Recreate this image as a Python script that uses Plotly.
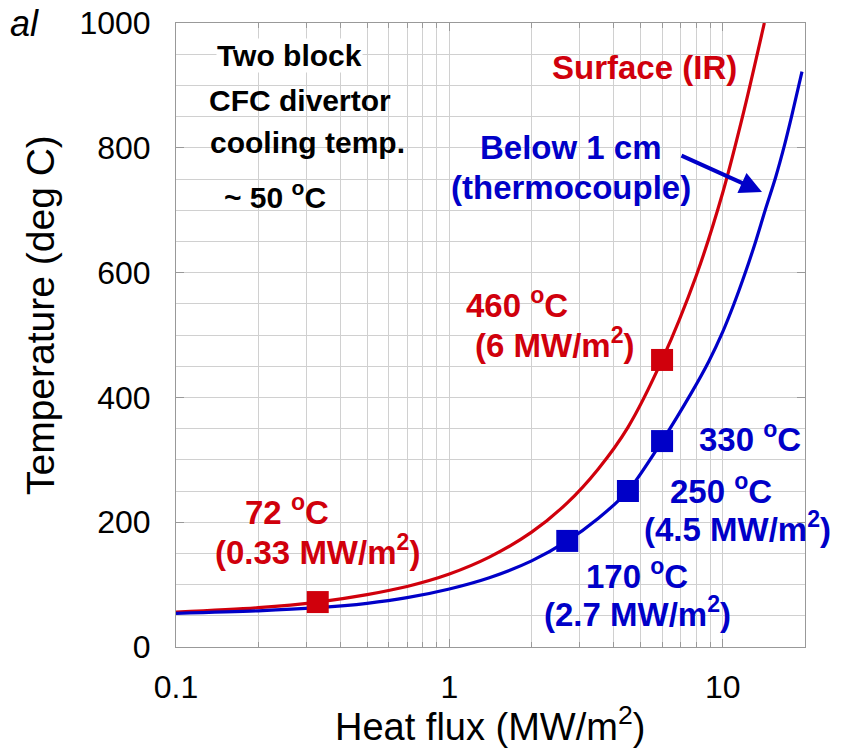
import plotly.graph_objects as go

# Heat flux (MW/m^2) vs temperature (deg C) for the two-block CFC divertor
surface_q = [0.1, 0.2, 0.33, 0.5, 0.7, 1, 1.4, 2, 2.7, 3.5, 4.5, 6, 8, 10, 12, 14.2]
surface_t = [56, 63, 72, 84, 97, 117, 144, 184, 231, 285, 352, 460, 595, 728, 862, 1000]

below_q = [0.1, 0.2, 0.33, 0.5, 0.7, 1, 1.4, 2, 2.7, 3.5, 4.5, 6, 7.7, 8.9, 10, 11,
           12.1, 13.2, 14.3, 15.6, 16.8, 17.9, 19.5]
below_t = [54, 58, 63, 70, 79, 93, 111, 138, 170, 206, 250, 330, 408, 458, 505, 550,
           600, 650, 700, 752, 803, 852, 922]

# Measured points
surface_pts_q = [0.33, 6]
surface_pts_t = [72, 460]
below_pts_q = [2.7, 4.5, 6]
below_pts_t = [170, 250, 330]

x_ticks = [0.1, 1, 10]
x_ticklabels = ["0.1", "1", "10"]
x_minor = [0.2, 0.3, 0.4, 0.5, 0.6, 0.7, 0.8, 0.9, 2, 3, 4, 5, 6, 7, 8, 9, 20]
y_ticks = [0, 200, 400, 600, 800, 1000]

RED = "#d0000c"
BLUE = "#0000c8"
FONT = "Liberation Sans, Arial, sans-serif"

W, H = 841, 756
L, R, T, B = 176, 805, 23, 647  # plot area in page pixels


def px(x, y):
    """page pixel -> paper coords"""
    return (x - L) / (R - L), (B - y) / (B - T)


fig = go.Figure()
fig.add_trace(go.Scatter(x=surface_q, y=surface_t, mode="lines",
                         line=dict(color=RED, width=3.2, shape="spline", smoothing=0.8),
                         showlegend=False, hoverinfo="skip"))
fig.add_trace(go.Scatter(x=below_q, y=below_t, mode="lines",
                         line=dict(color=BLUE, width=3.2, shape="spline", smoothing=0.8),
                         showlegend=False, hoverinfo="skip"))
fig.add_trace(go.Scatter(x=surface_pts_q, y=surface_pts_t, mode="markers",
                         marker=dict(symbol="square", size=22, color=RED),
                         showlegend=False))
fig.add_trace(go.Scatter(x=below_pts_q, y=below_pts_t, mode="markers",
                         marker=dict(symbol="square", size=22, color=BLUE),
                         showlegend=False))

annos = []


def label(text, x, y, color, size=33, bold=True, bg=None, angle=0):
    xp, yp = px(x, y)
    t = f"<b>{text}</b>" if bold else text
    d = dict(text=t, x=xp, y=yp, xref="paper", yref="paper", showarrow=False,
             xanchor="center", yanchor="middle", textangle=angle,
             font=dict(family=FONT, size=size, color=color))
    if bg:
        d.update(bgcolor=bg, borderpad=0)
    annos.append(d)


label("Two block", 289, 55, "black", size=30, bg="white")
label("CFC divertor", 300, 100, "black", size=30)
label("cooling temp.", 307, 142, "black", size=30)
label("~ 50 <sup>o</sup>C", 275, 195, "black", size=30)

label("Surface (IR)", 644, 68, RED)
label("460 <sup>o</sup>C", 517, 303, RED)
label("(6 MW/m<sup>2</sup>)", 555, 343, RED)
label("72 <sup>o</sup>C", 287, 510, RED)
label("(0.33 MW/m<sup>2</sup>)", 317, 550, RED)

label("Below 1 cm", 571, 148, BLUE)
label("(thermocouple)", 571, 188, BLUE)
label("330 <sup>o</sup>C", 750, 437, BLUE)
label("250 <sup>o</sup>C", 721, 489, BLUE)
label("(4.5 MW/m<sup>2</sup>)", 737, 527, BLUE)
label("170 <sup>o</sup>C", 637, 574, BLUE)
label("(2.7 MW/m<sup>2</sup>)", 637, 612, BLUE)

# axis titles
label("Temperature (deg C)", 40, 315, "black", size=39, bold=False, angle=-90)
label("Heat flux (MW/m<sup>2</sup>)", 490, 724, "black", size=38, bold=False)

# arrow pointing at the thermocouple curve
tip = px(762, 192)
annos.append(dict(x=tip[0], y=tip[1], xref="paper", yref="paper", text="",
                  showarrow=True, ax=-82, ay=-37, arrowhead=2, arrowsize=1.1,
                  arrowwidth=4, arrowcolor=BLUE))

# fragment of a heading at the page corner
xp, yp = px(24, 24)
annos.append(dict(text="<i>al</i>", x=xp, y=yp, xref="paper", yref="paper",
                  showarrow=False, xanchor="center", yanchor="middle",
                  font=dict(family=FONT, size=36, color="black")))

grid = "#d0d0d0"
fig.update_layout(
    width=W, height=H,
    margin=dict(l=L, r=W - R, t=T, b=H - B, pad=0, autoexpand=False),
    paper_bgcolor="white", plot_bgcolor="white",
    font=dict(family=FONT, color="black"),
    annotations=annos,
    xaxis=dict(type="log", range=[-1, 1.30103], automargin=False,
               tickvals=x_ticks, ticktext=x_ticklabels,
               tickfont=dict(size=32), ticks="inside", ticklen=8, tickcolor="#999",
               ticklabelstandoff=12,
               showgrid=True, gridcolor=grid, gridwidth=1,
               minor=dict(tickvals=x_minor, showgrid=True, gridcolor=grid,
                          ticks="inside", ticklen=5, tickcolor="#999"),
               showline=True, linecolor="#999", linewidth=1, mirror="ticks",
               zeroline=False),
    yaxis=dict(range=[0, 1000], tickvals=y_ticks, automargin=False,
               tickfont=dict(size=32), ticks="inside", ticklen=8, tickcolor="#999",
               ticklabelstandoff=18,
               showgrid=True, gridcolor=grid, gridwidth=1,
               minor=dict(dtick=50, showgrid=True, gridcolor=grid, ticks=""),
               showline=True, linecolor="#999", linewidth=1, mirror="ticks",
               zeroline=False),
)

fig.write_html("out.html")
